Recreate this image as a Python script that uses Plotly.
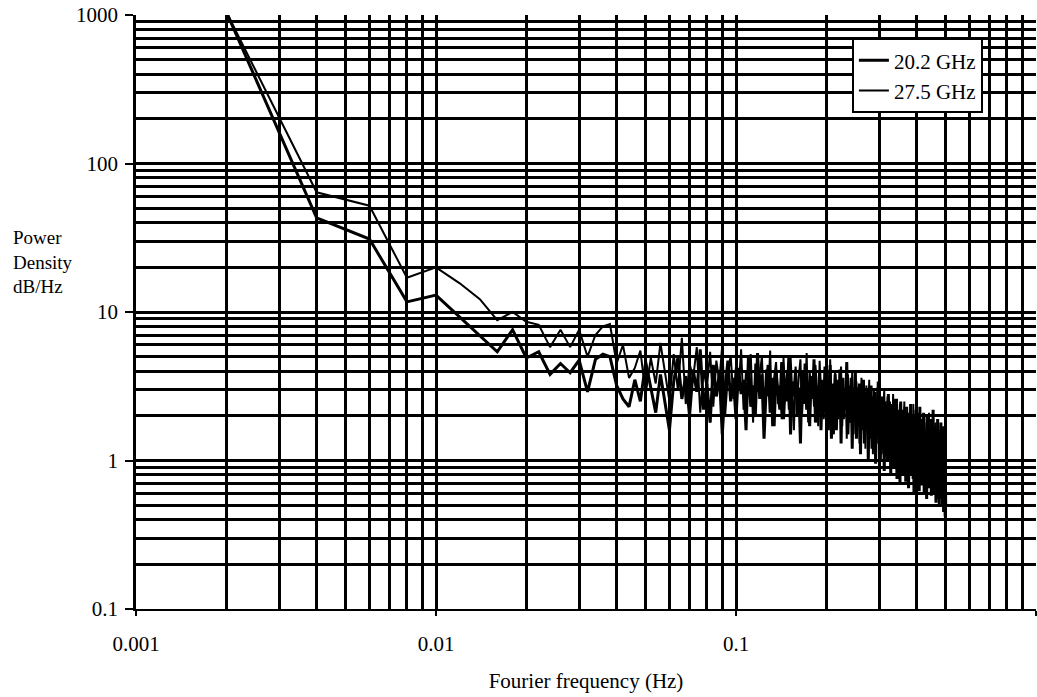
import plotly.graph_objects as go

freq_step = 0.002
n_points = 250
freqs = [round(freq_step * k, 3) for k in range(1, n_points + 1)]

psd_20_2 = [
    1050, 43, 31, 11.7, 13, 9.3, 7.0, 5.4, 7.6, 4.9,
    5.4, 3.8, 4.5, 3.9, 4.75, 2.9, 4.8, 5.2, 5.0, 3.2,
    2.6, 2.3, 3.5, 2.5, 4.6, 3.0, 2.1, 3.8, 2.4, 1.6,
    3.4, 4.9, 2.6, 3.7, 2.0, 4.1, 2.9, 5.6, 2.2, 3.3,
    1.8, 4.4, 2.7, 3.9, 1.5, 3.1, 4.7, 2.5, 3.6, 1.9,
    4.2, 2.8, 3.5, 1.6, 4.9, 2.3, 3.2, 2.0, 5.3, 2.6,
    3.8, 1.4, 3.0, 4.4, 2.1, 3.6, 1.7, 4.0, 2.9, 2.2,
    4.6, 1.9, 3.3, 2.5, 5.0, 1.5, 3.4, 2.7, 4.1, 2.0,
    3.1, 1.3, 3.9, 2.4, 4.5, 2.2, 3.0, 1.7, 3.7, 2.6,
    4.8, 1.8, 3.2, 2.3, 4.0, 1.6, 3.5, 2.1, 4.3, 1.9,
    3.0, 2.5, 4.4, 1.4, 3.3, 2.0, 3.8, 1.6, 2.9, 2.2,
    4.1, 1.3, 3.4, 1.9, 3.0, 2.4, 4.6, 1.5, 2.7, 1.8,
    3.6, 1.2, 3.1, 2.2, 3.9, 1.4, 2.6, 1.7, 3.3, 1.1,
    2.8, 2.0, 3.5, 1.3, 2.4, 1.6, 3.0, 1.0, 2.6, 1.9,
    3.2, 1.2, 2.2, 1.5, 2.9, 0.95, 2.4, 1.7, 3.4, 1.3,
    2.0, 1.1, 2.7, 1.4, 2.2, 0.85, 2.5, 1.6, 1.9, 1.0,
    2.8, 1.2, 2.1, 0.8, 2.4, 1.5, 1.8, 0.9, 2.6, 1.3,
    1.7, 0.75, 2.2, 1.1, 1.9, 0.7, 2.5, 1.2, 1.6, 0.8,
    2.0, 1.0, 2.3, 0.72, 1.5, 1.1, 2.1, 0.65, 1.8, 0.9,
    2.4, 0.8, 1.4, 1.0, 2.0, 0.6, 1.7, 1.2, 2.2, 0.7,
    1.5, 0.9, 1.9, 0.62, 2.3, 1.0, 1.4, 0.68, 1.8, 0.85,
    2.1, 0.6, 1.6, 1.1, 1.3, 0.55, 2.0, 0.8, 1.5, 0.65,
    1.9, 0.9, 1.2, 0.58, 1.7, 0.75, 2.2, 0.6, 1.4, 0.95,
    1.6, 0.52, 1.3, 0.8, 1.9, 0.6, 1.1, 0.5, 1.5, 0.7,
    1.8, 0.55, 1.2, 0.85, 1.4, 0.45, 1.6, 0.62, 1.1, 0.5,
]

psd_27_5 = [
    1050, 64, 52, 17, 20, 15.6, 12.2, 8.8, 10, 8.6,
    8.2, 5.8, 7.6, 5.8, 7.6, 5.0, 7.0, 8.0, 8.3, 4.5,
    6.0, 3.6, 4.2, 5.5, 2.8, 4.9, 3.3, 6.2, 3.9, 2.5,
    5.2, 3.0, 6.7, 2.4, 4.5, 3.6, 5.8, 2.1, 4.0, 3.1,
    5.4, 2.3, 4.7, 3.4, 6.0, 2.0, 3.8, 5.1, 2.6, 4.3,
    3.0, 5.6, 2.2, 4.0, 3.3, 5.2, 1.8, 4.5, 2.9, 3.7,
    5.0, 2.1, 4.1, 2.7, 5.5, 1.7, 3.6, 4.6, 2.4, 3.2,
    1.9, 4.9, 2.8, 3.9, 2.2, 5.1, 3.0, 1.6, 4.3, 2.5,
    3.7, 4.8, 2.0, 3.4, 2.6, 5.3, 1.8, 4.0, 2.9, 3.5,
    2.3, 4.4, 3.1, 1.7, 4.7, 2.7, 3.3, 1.9, 4.2, 2.8,
    3.9, 1.6, 4.8, 2.4, 3.1, 1.5, 4.0, 2.6, 3.5, 1.9,
    2.7, 4.3, 1.7, 3.6, 2.2, 3.0, 1.4, 3.8, 2.5, 3.2,
    1.8, 4.0, 2.3, 2.9, 1.5, 3.4, 2.0, 3.1, 1.3, 2.7,
    3.6, 1.6, 2.5, 2.9, 1.2, 3.2, 2.1, 1.8, 3.5, 1.4,
    2.3, 2.7, 1.1, 3.0, 1.9, 2.4, 1.3, 3.1, 1.6, 2.2,
    2.9, 1.0, 2.6, 1.7, 2.1, 3.0, 1.2, 2.3, 1.5, 2.7,
    1.1, 2.0, 2.5, 0.95, 2.2, 1.4, 2.8, 1.0, 1.9, 2.3,
    1.3, 2.6, 0.9, 2.0, 1.6, 2.4, 1.0, 1.8, 2.2, 0.85,
    1.7, 2.5, 1.1, 1.9, 0.8, 2.3, 1.4, 2.0, 0.9, 1.6,
    2.2, 1.0, 1.8, 0.75, 2.4, 1.3, 1.7, 0.85, 2.0, 1.2,
    1.6, 0.7, 2.1, 1.1, 1.5, 0.78, 1.9, 1.3, 0.7, 1.7,
    1.0, 2.0, 0.72, 1.5, 1.2, 1.8, 0.65, 1.6, 1.0, 2.1,
    0.75, 1.4, 1.1, 1.9, 0.6, 1.5, 0.95, 1.7, 0.68, 1.3,
    1.8, 0.7, 1.2, 1.5, 0.55, 1.7, 0.9, 1.3, 0.62, 1.6,
    1.0, 1.4, 0.5, 1.2, 1.7, 0.6, 1.3, 0.42, 1.1, 0.8,
]

x_tick_vals = [0.001, 0.01, 0.1, 1]
x_tick_text = ["0.001", "0.01", "0.1", "1"]
y_tick_vals = [0.1, 1, 10, 100, 1000]
y_tick_text = ["0.1", "1", "10", "100", "1000"]

series_names = ["20.2 GHz", "27.5 GHz"]
y_title_lines = ["Power", "Density", "dB/Hz"]

FONT = "Liberation Serif, Times New Roman, serif"
FS = 21

fig = go.Figure()
fig.add_trace(go.Scatter(x=freqs, y=psd_20_2, mode="lines", name=series_names[0],
                         line=dict(color="black", width=3)))
fig.add_trace(go.Scatter(x=freqs, y=psd_27_5, mode="lines", name=series_names[1],
                         line=dict(color="black", width=2)))

grid_w = 2.6
fig.update_layout(
    width=1037, height=697,
    margin=dict(l=136, r=1, t=15, b=88),
    paper_bgcolor="white", plot_bgcolor="white",
    font=dict(family=FONT, size=FS, color="black"),
    showlegend=True,
    legend=dict(x=0.941, y=0.961, xanchor="right", yanchor="top",
                bgcolor="white", bordercolor="black", borderwidth=2,
                font=dict(family=FONT, size=FS, color="black"),
                tracegroupgap=0, itemwidth=30),
    xaxis=dict(type="log", range=[-3, 0], tickvals=x_tick_vals, ticktext=x_tick_text,
               showgrid=True, gridcolor="black", gridwidth=grid_w,
               showline=True, linecolor="black", linewidth=2,
               ticks="outside", ticklen=5, tickwidth=2, tickcolor="black",
               ticklabelstandoff=10,
               minor=dict(dtick="D1", showgrid=True, gridcolor="black", gridwidth=grid_w, ticks=""),
               zeroline=False,
               title=dict(text="Fourier frequency (Hz)", font=dict(family=FONT, size=FS), standoff=18)),
    yaxis=dict(type="log", range=[-1, 3], tickvals=y_tick_vals, ticktext=y_tick_text,
               showgrid=True, gridcolor="black", gridwidth=grid_w,
               showline=True, linecolor="black", linewidth=2.5,
               ticks="outside", ticklen=8, tickwidth=2, tickcolor="black",
               ticklabelstandoff=3,
               minor=dict(dtick="D1", showgrid=True, gridcolor="black", gridwidth=grid_w, ticks=""),
               zeroline=False),
)

fig.add_annotation(text="<br>".join(y_title_lines), xref="paper", yref="paper",
                   x=-0.139, y=0.585, xanchor="left", yanchor="middle", align="left",
                   showarrow=False, font=dict(family=FONT, size=19, color="black"))

fig.write_html("out.html")
